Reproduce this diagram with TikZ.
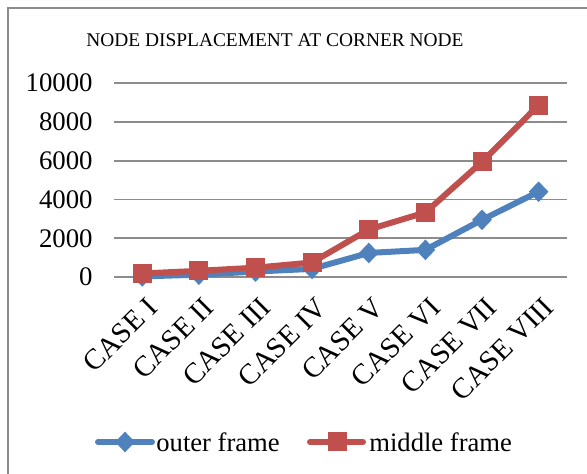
\documentclass[tikz,border=0pt]{standalone}
\usepackage{fontspec}
\setmainfont{Liberation Serif}
\usetikzlibrary{shapes.geometric}
\definecolor{outerblue}{HTML}{4F81BD}
\definecolor{middlered}{HTML}{C0504D}
\definecolor{gridgray}{HTML}{8C8C8C}

\begin{document}
\begin{tikzpicture}[x=0.5pt,y=0.5pt]
    \tikzstyle{gridline} = [gridgray, line width=0.9pt]
    \tikzstyle{ticklabel} = [anchor=east, inner sep=0pt, font=\fontsize{13.4}{14}\selectfont]
    \tikzstyle{caselabel} = [anchor=north east, rotate=45, inner sep=1pt, font=\fontsize{14.5}{15}\selectfont]
    \tikzstyle{outerline} = [outerblue, line width=3pt, line join=round, line cap=round]
    \tikzstyle{middleline} = [middlered, line width=3pt, line join=round, line cap=round]
    \tikzstyle{outermark} = [diamond, fill=outerblue, inner sep=0pt, minimum width=10pt, minimum height=10.5pt]
    \tikzstyle{middlemark} = [rectangle, fill=middlered, inner sep=0pt, minimum size=9.5pt]
    \tikzstyle{legendtext} = [anchor=west, inner sep=0pt, font=\fontsize{13.3}{14}\selectfont]

    \useasboundingbox (0,0) rectangle (587,474);

    % 外框
    \draw[gridgray, line width=1pt] (8,0) -- (8,466) -- (587,466);

    % 标题
    \node[font=\fontsize{9.7}{11}\selectfont] (title) at (275,434) {NODE DISPLACEMENT AT CORNER NODE};

    \begin{scope}[shift={(0,197)}, y=0.009685pt]
        % 网格线与刻度
        \draw[gridline] (114,0) -- (567,0);
        \draw[gridline] (114,2000) -- (567,2000);
        \draw[gridline] (114,4000) -- (567,4000);
        \draw[gridline] (114,6000) -- (567,6000);
        \draw[gridline] (114,8000) -- (567,8000);
        \draw[gridline] (114,10000) -- (567,10000);
        \node[ticklabel] (t0) at (93,0) {0};
        \node[ticklabel] (t2) at (93,2000) {2000};
        \node[ticklabel] (t4) at (93,4000) {4000};
        \node[ticklabel] (t6) at (93,6000) {6000};
        \node[ticklabel] (t8) at (93,8000) {8000};
        \node[ticklabel] (t10) at (93,10000) {10000};

        % 类别标签
        \node[caselabel] (c1) at (145.3,-800) {CASE I};
        \node[caselabel] (c2) at (201.9,-800) {CASE II};
        \node[caselabel] (c3) at (258.5,-800) {CASE III};
        \node[caselabel] (c4) at (315.1,-800) {CASE IV};
        \node[caselabel] (c5) at (371.8,-800) {CASE V};
        \node[caselabel] (c6) at (428.4,-800) {CASE VI};
        \node[caselabel] (c7) at (485.0,-800) {CASE VII};
        \node[caselabel] (c8) at (541.6,-800) {CASE VIII};

        % 数据点
        \coordinate (o1) at (142.3,30);
        \coordinate (o2) at (198.9,120);
        \coordinate (o3) at (255.5,280);
        \coordinate (o4) at (312.1,420);
        \coordinate (o5) at (368.8,1240);
        \coordinate (o6) at (425.4,1400);
        \coordinate (o7) at (482.0,2950);
        \coordinate (o8) at (538.6,4400);
        \coordinate (m1) at (142.3,180);
        \coordinate (m2) at (198.9,320);
        \coordinate (m3) at (255.5,480);
        \coordinate (m4) at (312.1,750);
        \coordinate (m5) at (368.8,2450);
        \coordinate (m6) at (425.4,3330);
        \coordinate (m7) at (482.0,5940);
        \coordinate (m8) at (538.6,8870);

        % outer frame
        \draw[outerline] (o1) -- (o2) -- (o3) -- (o4) -- (o5) -- (o6) -- (o7) -- (o8);
        \node[outermark] (om1) at (o1) {};
        \node[outermark] (om2) at (o2) {};
        \node[outermark] (om3) at (o3) {};
        \node[outermark] (om4) at (o4) {};
        \node[outermark] (om5) at (o5) {};
        \node[outermark] (om6) at (o6) {};
        \node[outermark] (om7) at (o7) {};
        \node[outermark] (om8) at (o8) {};

        % middle frame
        \draw[middleline] (m1) -- (m2) -- (m3) -- (m4) -- (m5) -- (m6) -- (m7) -- (m8);
        \node[middlemark] (mm1) at (m1) {};
        \node[middlemark] (mm2) at (m2) {};
        \node[middlemark] (mm3) at (m3) {};
        \node[middlemark] (mm4) at (m4) {};
        \node[middlemark] (mm5) at (m5) {};
        \node[middlemark] (mm6) at (m6) {};
        \node[middlemark] (mm7) at (m7) {};
        \node[middlemark] (mm8) at (m8) {};
    \end{scope}

    % 图例
    \coordinate (lo1) at (98,32);
    \coordinate (lo2) at (152,32);
    \draw[outerline] (lo1) -- (lo2);
    \node[outermark] (lom) at (125,32) {};
    \node[legendtext] (lot) at (156,32) {outer frame};
    \coordinate (lm1) at (310,32);
    \coordinate (lm2) at (363,32);
    \draw[middleline] (lm1) -- (lm2);
    \node[middlemark] (lmm) at (337,32) {};
    \node[legendtext] (lmt) at (369,32) {middle frame};
\end{tikzpicture}
\end{document}
